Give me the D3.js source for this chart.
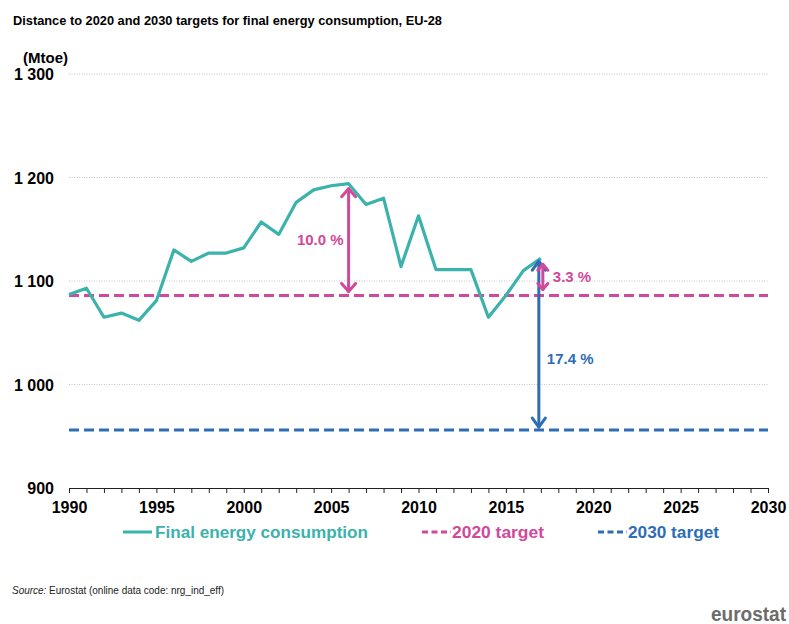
<!DOCTYPE html>
<html>
<head>
<meta charset="utf-8">
<script src="https://cdn.jsdelivr.net/npm/d3@7"></script>
<style>
  html, body { margin: 0; padding: 0; background: #fff; }
  svg { display: block; font-family: "Liberation Sans", Arial, sans-serif; }
</style>
</head>
<body>
<svg id="chart" width="789" height="624"></svg>
<script>
// ---- data ----
const years = d3.range(1990, 2018);
const consumption = [1087, 1093, 1065, 1069, 1062, 1081, 1130, 1119, 1127, 1127, 1132,
  1157, 1145, 1176, 1188, 1192, 1194, 1174, 1180, 1114, 1163, 1111, 1111, 1111, 1065,
  1086, 1110, 1122];
const target2020 = 1086;
const target2030 = 956;
const yTicks = [900, 1000, 1100, 1200, 1300];
const xTickLabels = [1990, 1995, 2000, 2005, 2010, 2015, 2020, 2025, 2030];
const seriesNames = ["Final energy consumption", "2020 target", "2030 target"];
const annotations = [
  { year: 2006, from: 1194, to: 1086, label: "10.0 %", color: "magenta" },
  { year: 2017, from: 1122, to: 1086, label: "3.3 %", color: "magenta" },
  { year: 2017, from: 1122, to: 956, label: "17.4 %", color: "blue" }
];

const colors = { teal: "#3bb2ab", magenta: "#d1499b", blue: "#2d6db5" };

const svg = d3.select("#chart");
const x = d3.scaleLinear().domain([1990, 2030]).range([69, 768]);
const y = d3.scaleLinear().domain([900, 1300]).range([488, 74]);

const fmt = d => d >= 1000 ? Math.floor(d / 1000) + " " + String(d % 1000).padStart(3, "0") : String(d);

// title
svg.append("text").attr("x", 13).attr("y", 25)
  .attr("font-size", 13).attr("font-weight", "bold").attr("fill", "#000")
  .attr("textLength", 429).attr("lengthAdjust", "spacingAndGlyphs")
  .text("Distance to 2020 and 2030 targets for final energy consumption, EU-28");

// unit
svg.append("text").attr("x", 23).attr("y", 63)
  .attr("font-size", 15).attr("font-weight", "bold").attr("fill", "#000")
  .text("(Mtoe)");

// grid
svg.append("g").selectAll("line").data(yTicks.filter(d => d > 900)).join("line")
  .attr("x1", x(1990)).attr("x2", x(2030))
  .attr("y1", d => y(d)).attr("y2", d => y(d))
  .attr("stroke", "#c4c4c4").attr("stroke-width", 1).attr("stroke-dasharray", "1,1.5");

// y labels
svg.append("g").selectAll("text").data(yTicks).join("text")
  .attr("x", 54).attr("y", d => y(d) + 6)
  .attr("text-anchor", "end").attr("font-size", 16).attr("font-weight", "bold").attr("fill", "#000")
  .text(fmt);

// x axis
const xAxis = d3.axisBottom(x)
  .tickValues(d3.range(1990, 2031))
  .tickSize(5).tickSizeOuter(0)
  .tickFormat(d => xTickLabels.includes(d) ? String(d) : "");
const gx = svg.append("g").attr("transform", `translate(0,${y(900)})`).call(xAxis);
gx.select(".domain").attr("stroke", "#222").attr("stroke-width", 1.2);
gx.selectAll(".tick line").attr("stroke", "#222");
gx.selectAll(".tick text").attr("y", 25).attr("dy", 0)
  .attr("font-size", 16).attr("font-weight", "bold").attr("fill", "#000")
  .attr("font-family", "'Liberation Sans', Arial, sans-serif");

// target lines
svg.append("line").attr("x1", x(1990)).attr("x2", x(2030))
  .attr("y1", y(target2020)).attr("y2", y(target2020))
  .attr("stroke", colors.magenta).attr("stroke-width", 3).attr("stroke-dasharray", "10,5");
svg.append("line").attr("x1", x(1990)).attr("x2", x(2030))
  .attr("y1", y(target2030)).attr("y2", y(target2030))
  .attr("stroke", colors.blue).attr("stroke-width", 3).attr("stroke-dasharray", "10,5");

// consumption line
const line = d3.line().x((d, i) => x(years[i])).y(d => y(d));
svg.append("path").datum(consumption)
  .attr("d", line).attr("fill", "none")
  .attr("stroke", colors.teal).attr("stroke-width", 3.2).attr("stroke-linejoin", "round");

// arrows
function arrow(cx, y1, y2, col, hw, hh, sw) {
  const g = svg.append("g").attr("stroke", col).attr("stroke-width", sw).attr("fill", "none")
    .attr("stroke-linecap", "round").attr("stroke-linejoin", "round");
  g.append("line").attr("x1", cx).attr("x2", cx).attr("y1", y1).attr("y2", y2);
  g.append("path").attr("d", `M${cx - hw},${y1 + hh}L${cx},${y1}L${cx + hw},${y1 + hh}`);
  g.append("path").attr("d", `M${cx - hw},${y2 - hh}L${cx},${y2}L${cx + hw},${y2 - hh}`);
}
// 10.0 %
{
  const a = annotations[0];
  const cx = x(a.year);
  arrow(cx, y(a.from) + 5, y(a.to) - 4, colors[a.color], 7, 8, 3);
  svg.append("text").attr("x", cx - 5).attr("y", y((a.from + a.to) / 2) + 5)
    .attr("text-anchor", "end").attr("font-size", 15).attr("font-weight", "bold")
    .attr("fill", colors[a.color]).text(a.label);
}
// 17.4 % (blue, drawn first so magenta sits on top)
{
  const a = annotations[2];
  const cx = x(a.year) - 2;
  arrow(cx, y(a.from) + 3, y(a.to) - 3, colors[a.color], 6.5, 9, 3);
  svg.append("text").attr("x", cx + 8).attr("y", y(1025) + 5)
    .attr("text-anchor", "start").attr("font-size", 15).attr("font-weight", "bold")
    .attr("fill", colors[a.color]).text(a.label);
}
// 3.3 %
{
  const a = annotations[1];
  const cx = x(a.year) + 2;
  arrow(cx, y(a.from) + 6, y(a.to) - 6, colors[a.color], 5, 6, 3);
  svg.append("text").attr("x", cx + 10).attr("y", y((a.from + a.to) / 2) + 5)
    .attr("text-anchor", "start").attr("font-size", 15).attr("font-weight", "bold")
    .attr("fill", colors[a.color]).text(a.label);
}

// legend
const legend = [
  { name: seriesNames[0], color: colors.teal, dash: null, x0: 123, tx: 155, tw: 213 },
  { name: seriesNames[1], color: colors.magenta, dash: "6,3.5", x0: 422, tx: 452, tw: 92 },
  { name: seriesNames[2], color: colors.blue, dash: "6,3.5", x0: 598, tx: 628, tw: 91 }
];
const lg = svg.append("g");
legend.forEach(l => {
  lg.append("line").attr("x1", l.x0).attr("x2", l.x0 + 29).attr("y1", 532).attr("y2", 532)
    .attr("stroke", l.color).attr("stroke-width", 3)
    .attr("stroke-dasharray", l.dash);
  lg.append("text").attr("x", l.tx).attr("y", 538)
    .attr("font-size", 16).attr("font-weight", "bold").attr("fill", l.color)
    .attr("textLength", l.tw).attr("lengthAdjust", "spacingAndGlyphs")
    .text(l.name);
});

// source
const src = svg.append("text").attr("x", 12).attr("y", 594).attr("font-size", 10).attr("fill", "#222")
  .attr("textLength", 212).attr("lengthAdjust", "spacingAndGlyphs");
src.append("tspan").attr("font-style", "italic").text("Source:");
src.append("tspan").text(" Eurostat (online data code: nrg_ind_eff)");

// logo
svg.append("text").attr("x", 711).attr("y", 621).attr("font-size", 20).attr("font-weight", "bold")
  .attr("fill", "#6b6b6b").attr("textLength", 75).attr("lengthAdjust", "spacingAndGlyphs")
  .text("eurostat");
</script>
</body>
</html>
